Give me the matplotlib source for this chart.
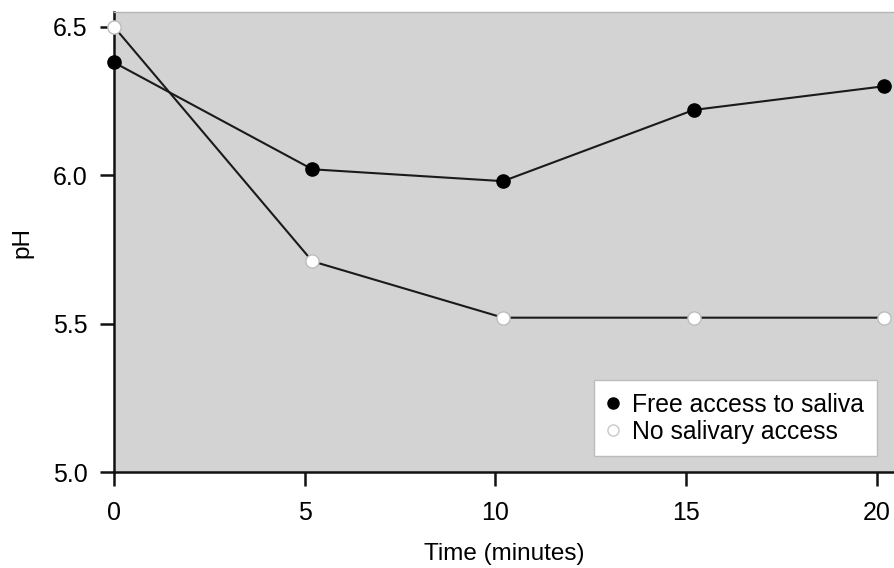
import matplotlib
matplotlib.use("Agg")
import matplotlib.pyplot as plt
from matplotlib.lines import Line2D

plt.rcParams['font.family'] = ['Liberation Sans', 'DejaVu Sans']

# Salivary pH over time
time_free = [0, 5.2, 10.2, 15.2, 20.2]
ph_free = [6.38, 6.02, 5.98, 6.22, 6.30]

time_none = [0, 5.2, 10.2, 15.2, 20.2]
ph_none = [6.50, 5.71, 5.52, 5.52, 5.52]

series_labels = ['Free access to saliva', 'No salivary access']

x_ticks = [0, 5, 10, 15, 20]
y_ticks = [5.0, 5.5, 6.0, 6.5]
y_tick_labels = ["5.0", "5.5", "6.0", "6.5"]

W, H = 894, 568
fig = plt.figure(figsize=(W / 100, H / 100), dpi=100)
ax = fig.add_axes([114 / W, (H - 472) / H, (W - 114) / W, (472 - 12) / H])
ax.set_facecolor('#d3d3d3')

ax.plot(time_free, ph_free, color='#1a1a1a', lw=1.5, marker='o', ms=9.5,
        mfc='black', mec='black', mew=1, clip_on=False, zorder=3)
ax.plot(time_none, ph_none, color='#1a1a1a', lw=1.5, marker='o', ms=9.5,
        mfc='white', mec='#bdbdbd', mew=1, clip_on=False, zorder=4)

ax.set_xlim(0, 20.45)
ax.set_ylim(5.0, 6.55)
ax.set_xticks(x_ticks)
ax.set_yticks(y_ticks)
ax.set_yticklabels(y_tick_labels)

for side in ('left', 'bottom'):
    ax.spines[side].set_linewidth(1.8)
    ax.spines[side].set_color('#111111')
ax.spines['top'].set_color('#b5b5b5')
ax.spines['top'].set_linewidth(1.0)
ax.spines['right'].set_visible(False)

ax.tick_params(axis='both', direction='out', length=10, width=1.8,
               color='#111111', labelsize=18)
ax.tick_params(axis='y', pad=9)
ax.tick_params(axis='x', pad=11)

ax.set_xlabel('Time (minutes)', fontsize=17.5, labelpad=13)
ax.set_ylabel('pH', fontsize=17.5, labelpad=14)

leg_handles = [
    Line2D([], [], ls='none', marker='o', ms=8, mfc='black', mec='black'),
    Line2D([], [], ls='none', marker='o', ms=8, mfc='white', mec='#c8c8c8'),
]
leg = ax.legend(leg_handles, series_labels, loc='lower right',
                bbox_to_anchor=(0.978, 0.035), fontsize=17.8, frameon=True,
                fancybox=False, edgecolor='#bbbbbb', facecolor='white',
                framealpha=1, handlelength=0.5, handletextpad=0.55,
                borderpad=0.5, labelspacing=0.12, borderaxespad=0)
leg.get_frame().set_linewidth(1.0)

fig.savefig('out.png', dpi=100)
